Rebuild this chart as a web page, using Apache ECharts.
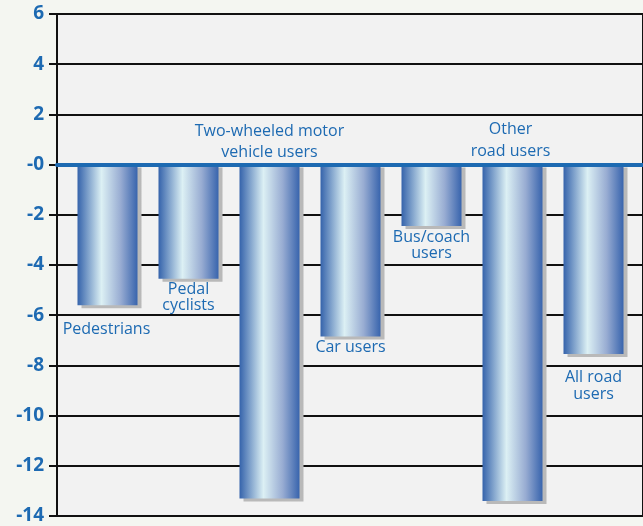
<!DOCTYPE html>
<html><head><meta charset="utf-8">
<script src="https://cdn.jsdelivr.net/npm/echarts@6/dist/echarts.min.js"></script>
<style>html,body{margin:0;padding:0;background:#f4f6f1}#c{width:643px;height:526px}</style>
</head>
<body><div id="c"></div>
<script>
const categories = ['Pedestrians', 'Pedal\ncyclists', 'Two-wheeled motor\nvehicle users', 'Car users', 'Bus/coach\nusers', 'Other\nroad users', 'All road\nusers'];
const values = [-5.6, -4.55, -13.3, -6.85, -2.45, -13.4, -7.55];
const yTickLabels = ['-14', '-12', '-10', '-8', '-6', '-4', '-2', '-0', '2', '4', '6'];

// label placement styles (not data)
const labelPlacement = [
  {position: 'bottom', distance: 15, offset: [-1, 0], lineHeight: 18},
  {position: 'bottom', distance: 3, offset: [0, 0], lineHeight: 16},
  {position: 'top', distance: 2, offset: [0, 0], lineHeight: 21},
  {position: 'bottom', distance: 2, offset: [0, 0], lineHeight: 18},
  {position: 'bottom', distance: 3, offset: [0, 0], lineHeight: 16},
  {position: 'top', distance: 2, offset: [-2, 0], lineHeight: 22},
  {position: 'bottom', distance: 15, offset: [0, 0], lineHeight: 17}
];

const blue = '#1d6ab2';
const barGradient = new echarts.graphic.LinearGradient(0, 0, 1, 0, [
  {offset: 0, color: '#3563ab'},
  {offset: 0.4, color: '#dcf0f4'},
  {offset: 0.72, color: '#98acd2'},
  {offset: 1, color: '#3864ad'}
]);

const chart = echarts.init(document.getElementById('c'), null, {renderer: 'canvas'});
chart.setOption({
  backgroundColor: '#f4f6f1',
  animation: false,
  grid: [
    {left: 57, top: 14, bottom: 10, right: -10, show: true, backgroundColor: '#f2f2f2', borderColor: '#111', borderWidth: 2, containLabel: false},
    {left: 67, top: 14, bottom: 10, width: 567, containLabel: false}
  ],
  xAxis: [
    {gridIndex: 0, type: 'category', data: [''], z: 10,
     axisLine: {show: true, onZero: true, lineStyle: {color: blue, width: 4}},
     axisTick: {show: false}, axisLabel: {show: false}, splitLine: {show: false}},
    {gridIndex: 1, type: 'category', data: categories,
     axisLine: {show: false}, axisTick: {show: false}, axisLabel: {show: false}, splitLine: {show: false}}
  ],
  yAxis: [
    {gridIndex: 0, type: 'value', min: -14, max: 6, interval: 2,
     axisLine: {show: false},
     axisTick: {show: true, length: 8, lineStyle: {color: '#111', width: 2}},
     splitLine: {show: true, lineStyle: {color: '#111', width: 2}},
     axisLabel: {margin: 13, color: blue, fontFamily: 'Open Sans', fontWeight: 'bold', fontSize: 19,
       formatter: (v) => yTickLabels[Math.round((v + 14) / 2)]}},
    {gridIndex: 1, type: 'value', min: -14, max: 6, interval: 2, show: false, splitLine: {show: false}}
  ],
  series: [{
    type: 'bar',
    xAxisIndex: 1, yAxisIndex: 1,
    barWidth: 60,
    data: values.map((v, i) => ({
      value: v,
      label: {
        show: true,
        formatter: categories[i],
        position: labelPlacement[i].position,
        distance: labelPlacement[i].distance,
        offset: labelPlacement[i].offset,
        lineHeight: labelPlacement[i].lineHeight,
        color: blue, fontFamily: 'Open Sans', fontSize: 16, align: 'center'
      }
    })),
    itemStyle: {
      color: barGradient,
      shadowColor: '#b9b9b9', shadowOffsetX: 4, shadowOffsetY: 3, shadowBlur: 0
    }
  }]
});
</script>
</body></html>
